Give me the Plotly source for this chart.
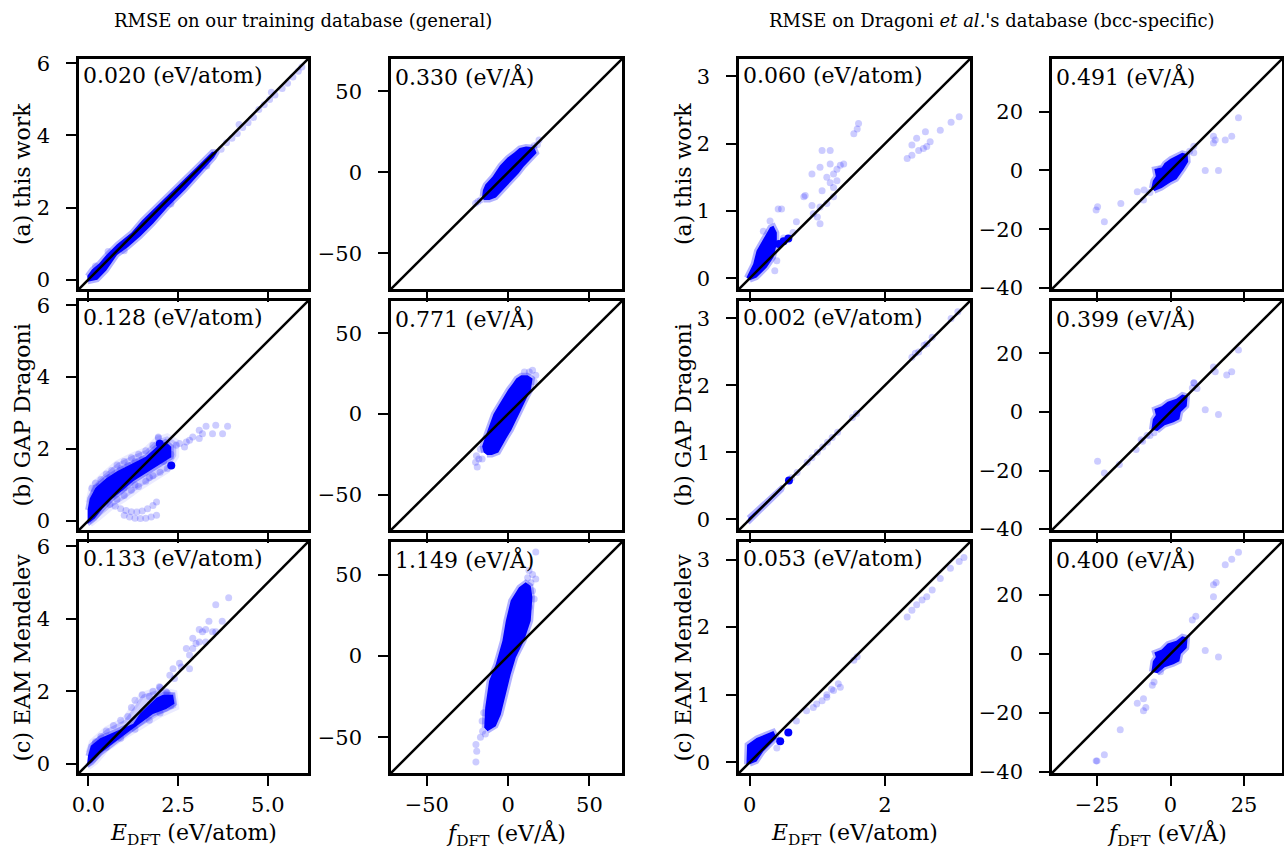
import plotly.graph_objects as go

# ---------------- data ----------------
row_labels = ["(a) this work", "(b) GAP Dragoni", "(c) EAM Mendelev"]
col_titles = ["RMSE on our training database (general)",
              "RMSE on Dragoni <i>et al.</i>'s database (bcc-specific)"]
rmse_text = [["0.020 (eV/atom)", "0.330 (eV/Å)", "0.060 (eV/atom)", "0.491 (eV/Å)"],
             ["0.128 (eV/atom)", "0.771 (eV/Å)", "0.002 (eV/atom)", "0.399 (eV/Å)"],
             ["0.133 (eV/atom)", "1.149 (eV/Å)", "0.053 (eV/atom)", "0.400 (eV/Å)"]]
x_titles = ["<i>E</i><sub>DFT</sub> (eV/atom)", "<i>f</i><sub>DFT</sub> (eV/Å)",
            "<i>E</i><sub>DFT</sub> (eV/atom)", "<i>f</i><sub>DFT</sub> (eV/Å)"]

col_limits = [[-0.26, 6.12], [-72, 70], [-0.16, 3.26], [-40.3, 37.9]]
col_xticks = [[0, 2.5, 5], [-50, 0, 50], [0, 2, 4], [-25, 0, 25]]
col_xtickformat = [".1f", "", "", ""]
col_yticks = [[0, 2, 4, 6], [-50, 0, 50], [0, 1, 2, 3], [-40, -20, 0, 20]]

# --- (a) this work, energies, training DB
a_et_blob_x = [-0.02, 0.25, 0.5, 0.8, 1.1, 1.45, 1.8, 2.2, 2.7, 3.1, 3.5, 3.6, 3.45, 3.0, 2.5, 2.0, 1.5, 1.2, 0.8, 0.5, 0.3, 0.1, -0.03]
a_et_blob_y = [-0.06, 0.0, 0.25, 0.68, 0.9, 1.2, 1.55, 2.0, 2.5, 2.95, 3.38, 3.55, 3.55, 3.1, 2.62, 2.15, 1.65, 1.3, 0.98, 0.68, 0.45, 0.28, 0.1]
a_et_halo_x = []
a_et_halo_y = []
a_et_pts_x = [3.7, 3.85, 4.0, 4.15, 4.3, 4.45, 4.6, 4.75, 4.9, 5.05, 5.2, 5.4, 5.55, 5.7, 5.85, 5.95, 0.55, 1.0, 1.55, 2.3, 3.3, 4.2, 5.1, 0.2]
a_et_pts_y = [3.62, 3.8, 3.92, 4.05, 4.22, 4.35, 4.5, 4.72, 4.85, 5.0, 5.12, 5.3, 5.45, 5.62, 5.78, 5.9, 0.78, 0.8, 1.45, 2.1, 3.15, 4.3, 5.2, 0.38]
a_et_dot_x = []
a_et_dot_y = []

# --- (a) this work, forces, training DB
a_ft_blob_x = [-16, -15.5, -14, -9.5, -5, -0.5, 4, 7, 11, 16, 17.5, 13.5, 9.5, 6.5, 3, -0.5, -4.5, -7.5, -11.5, -15]
a_ft_blob_y = [-15, -11, -7.5, -2.5, 4.2, 9, 12.5, 15, 16, 15.5, 12, 8, 3.5, -0.5, -4.5, -8.5, -12.5, -15.5, -17, -17]
a_ft_halo_x = []
a_ft_halo_y = []
a_ft_pts_x = [-20, -18.5, 19, 18, -17, 16]
a_ft_pts_y = [-19, -18, 20, 17, -17, 16.5]
a_ft_dot_x = []
a_ft_dot_y = []

# --- (a) this work, energies, bcc DB
a_eb_blob_x = [-0.05, 0.05, 0.1, 0.22, 0.3, 0.35, 0.4, 0.4, 0.35, 0.25, 0.1, 0.0]
a_eb_blob_y = [0.01, 0.21, 0.41, 0.61, 0.76, 0.78, 0.68, 0.51, 0.31, 0.16, 0.01, -0.03]
a_eb_halo_x = []
a_eb_halo_y = []
a_eb_pts_x = [0.42, 0.47, 0.8, 0.82, 0.92, 0.94, 1.04, 1.0, 1.04, 1.14, 1.24, 1.07, 1.14, 0.92, 1.04, 1.07, 1.19, 1.19, 1.24, 1.29, 1.34, 1.39, 1.29, 1.24, 1.19, 1.54, 1.61, 1.59, 0.64, 0.69, 0.4, 0.37,
              2.33, 2.4, 2.5, 2.57, 2.62, 2.67, 2.4, 2.47, 2.6, 2.82, 2.98, 3.1, 0.3, 0.2, 0.5]
a_eb_pts_y = [1.03, 1.03, 1.21, 1.23, 1.08, 0.96, 0.81, 0.91, 1.06, 1.11, 1.21, 1.3, 1.5, 1.55, 1.65, 1.9, 1.9, 1.7, 1.55, 1.62, 1.68, 1.7, 1.45, 1.35, 1.42, 2.15, 2.3, 2.22, 0.68, 0.84, 0.26, 0.11,
              1.78, 1.83, 1.9, 1.93, 1.96, 2.03, 1.98, 2.08, 2.18, 2.2, 2.32, 2.4, 0.85, 0.7, 0.6]
a_eb_dot_x = [0.57, 0.43, 0.5]
a_eb_dot_y = [0.59, 0.51, 0.55]

# --- (a) this work, forces, bcc DB
a_fb_blob_x = [-6.5, -6, -5, -5.5, -3, -2, 0, 2, 4, 5.8, 6, 4.5, 3, 2, 0, -3, -5.5]
a_fb_blob_y = [-6, -3.5, -2, 0.5, 1, 2.5, 4, 5, 6, 5.5, 3, 0.5, -1.5, -3, -4, -6, -7]
a_fb_halo_x = []
a_fb_halo_y = []
a_fb_pts_x = [-24.8, -25.3, -22.5, -16.9, -11.3, -9, -9.2, 7.9, 7.9, 11.8, 16.3, 14.6, 14.6, 15.2, 18.6, 20.8, 23.1, -3.4, -7, 6.5]
a_fb_pts_y = [-12.3, -13.4, -17.4, -11.2, -7.2, -6.6, -10, 8.2, 6, 0, 0, 11.6, 9.3, 10.4, 10.4, 11.6, 17.9, 0.5, -7.5, 6.5]
a_fb_dot_x = []
a_fb_dot_y = []

# --- (b) GAP Dragoni, energies, training DB
b_et_blob_x = [-0.02, 0.04, 0.2, 0.5, 0.8, 1.0, 1.3, 1.6, 1.9, 2.15, 2.31, 2.31, 2.0, 1.6, 1.25, 0.95, 0.65, 0.4, 0.18, -0.02]
b_et_blob_y = [0.3, 0.62, 0.92, 1.18, 1.38, 1.48, 1.6, 1.78, 2.05, 2.2, 2.06, 1.77, 1.57, 1.32, 1.1, 0.84, 0.6, 0.34, 0.06, -0.09]
b_et_halo_x = [0.0, 0.1, 0.4, 0.8, 1.2, 1.6, 1.9, 2.2, 2.45, 2.45, 2.2, 1.8, 1.4, 1.0, 0.6, 0.3, 0.05]
b_et_halo_y = [0.5, 0.95, 1.25, 1.6, 1.8, 1.97, 2.25, 2.35, 2.2, 1.8, 1.4, 1.15, 0.9, 0.6, 0.35, 0.1, -0.1]
b_et_pts_x = [0.1, 0.2, 0.35, 0.5, 0.65, 0.8, 1.0, 1.2, 1.4, 1.6, 1.8, 1.95, 0.3, 0.6, 0.9, 1.1, 1.3, 1.5,
              0.6, 0.8, 1.0, 1.2, 1.4, 1.6, 1.8, 2.0, 2.2, 1.0, 1.3, 1.7, 2.1, 2.3,
              0.75, 0.9, 1.05, 1.2, 1.35, 1.5, 1.65, 1.8, 1.9,
              1.0, 1.15, 1.3, 1.45, 1.6, 1.75, 1.9,
              2.54, 2.73, 2.91, 3.09, 3.28, 3.46, 3.55, 3.74, 3.88, 3.09, 2.82, 2.45, 2.68, 3.18, 1.95]
b_et_pts_y = [0.9, 1.05, 1.15, 1.3, 1.4, 1.55, 1.65, 1.75, 1.85, 1.95, 2.1, 2.3, 0.95, 1.2, 1.45, 1.55, 1.65, 1.7,
              0.45, 0.6, 0.7, 0.85, 0.95, 1.1, 1.25, 1.35, 1.45, 0.9, 1.0, 1.2, 1.65, 1.85,
              0.4, 0.33, 0.28, 0.25, 0.24, 0.27, 0.33, 0.42, 0.52,
              0.15, 0.1, 0.07, 0.06, 0.07, 0.1, 0.15,
              2.15, 2.19, 2.33, 2.52, 2.63, 2.42, 2.66, 2.42, 2.63, 2.29, 2.24, 2.1, 2.05, 2.42, 2.33]
b_et_dot_x = [2.31, 1.99]
b_et_dot_y = [1.54, 2.14]

# --- (b) GAP Dragoni, forces, training DB
b_ft_blob_x = [-15, -16, -14, -12.5, -10.5, -9, -6, -3, 0, 3, 5, 8, 12, 15, 14, 12, 10, 7, 4.5, 2, -1, -4, -6, -10, -13]
b_ft_blob_y = [-24, -20, -14, -10, -5, 0, 5, 10.5, 15, 19, 22, 24, 24, 22, 15, 11, 6.5, 0, -5, -10, -15, -20, -24, -25.5, -25.5]
b_ft_halo_x = []
b_ft_halo_y = []
b_ft_pts_x = [-19.5, -20, -19, -18, 15, 13, 17, 16, -17, 10, -16]
b_ft_pts_y = [-26, -30, -33, -28, 27, 26, 24, 20, -22, 26, -28]
b_ft_dot_x = []
b_ft_dot_y = []

# --- (b) GAP Dragoni, energies, bcc DB
b_eb_blob_x = [-0.03, 0.2, 0.47, 0.49, 0.22, -0.02]
b_eb_blob_y = [-0.05, 0.17, 0.44, 0.49, 0.25, 0.02]
b_eb_halo_x = []
b_eb_halo_y = []
b_eb_pts_x = [0.62, 0.7, 0.85, 0.92, 1.0, 1.08, 1.15, 1.22, 1.3, 1.52, 1.58, 2.4, 2.45, 2.5, 2.58, 2.62, 2.7, 2.98, 3.08]
b_eb_pts_y = [0.62, 0.7, 0.85, 0.92, 1.0, 1.08, 1.15, 1.22, 1.3, 1.52, 1.58, 2.42, 2.48, 2.5, 2.6, 2.62, 2.72, 3.0, 3.1]
b_eb_dot_x = [0.58]
b_eb_dot_y = [0.58]

# --- (b) GAP Dragoni, forces, bcc DB
b_fb_blob_x = [-6.5, -6, -5, -5.5, -3, -1, 2, 4, 5.8, 5.5, 3.5, 3, 1, -2, -4.5]
b_fb_blob_y = [-6, -2.5, -1, 1, 2, 3.5, 4.5, 6, 5.5, 2, 0, -2.5, -3.5, -4.5, -6.5]
b_fb_halo_x = []
b_fb_halo_y = []
b_fb_pts_x = [-24.8, -22.5, -17.4, -11.7, -9.5, -5.6, 7.4, 7.9, 11.8, 16.3, 14.6, 15.2, 19.1, 20.8, 23.1, -8, -10, 8, -7, 9]
b_fb_pts_y = [-16.8, -20.8, -17.9, -12.8, -10, -7.1, 8.2, 9.9, 0.8, -0.9, 15.4, 13.7, 12.6, 13.7, 21.2, -8, -9.5, 10, -8, 8]
b_fb_dot_x = []
b_fb_dot_y = []

# --- (c) EAM Mendelev, energies, training DB
c_et_blob_x = [-0.01, 0.07, 0.33, 0.8, 1.25, 1.44, 1.62, 1.9, 2.08, 2.36, 2.4, 2.17, 1.8, 1.44, 1.07, 0.7, 0.33, 0.1, -0.04]
c_et_blob_y = [0.21, 0.49, 0.7, 0.9, 1.1, 1.38, 1.55, 1.82, 1.9, 1.9, 1.65, 1.51, 1.37, 1.12, 0.84, 0.56, 0.28, 0.03, -0.06]
c_et_halo_x = [0.0, 0.1, 0.5, 1.0, 1.3, 1.5, 2.0, 2.4, 2.45, 2.0, 1.5, 1.0, 0.5, 0.2, 0.0]
c_et_halo_y = [0.3, 0.6, 0.95, 1.2, 1.6, 1.9, 2.05, 1.95, 1.55, 1.35, 1.05, 0.75, 0.4, 0.05, -0.1]
c_et_pts_x = [0.2, 0.5, 0.9, 1.2, 1.3, 1.5, 1.7, 2.0, 2.2, 1.8, 1.1, 0.7, 0.35,
              3.91, 3.55, 3.36, 3.73, 3.09, 3.27, 3.46, 2.91, 3.09, 2.73, 2.82, 2.54, 2.59, 2.27, 2.4, 1.98, 2.17, 2.82, 2.36, 3.18, 3.0, 3.55, 3.27, 2.91,
              0.5, 0.9, 1.3, 1.7, 2.0, 2.3]
c_et_pts_y = [0.6, 0.9, 1.2, 1.55, 1.75, 1.9, 1.85, 2.1, 1.95, 2.0, 1.3, 1.05, 0.75,
              4.58, 4.39, 3.93, 3.93, 3.7, 3.7, 3.64, 3.46, 3.36, 3.18, 3.0, 2.77, 2.67, 2.44, 2.35, 2.12, 1.98, 2.62, 2.62, 3.64, 3.32, 3.64, 3.36, 3.18,
              0.45, 0.7, 0.95, 1.2, 1.4, 1.6]
c_et_dot_x = []
c_et_dot_y = []

# --- (c) EAM Mendelev, forces, training DB
c_ft_blob_x = [-14.7, -14.1, -11.7, -7.6, -3.5, -1.4, 1.6, 6.7, 10.8, 13.9, 14.9, 13.9, 9.8, 4.7, 1.6, -1.4, -4.5, -7.6, -12.7]
c_ft_blob_y = [-44.2, -31.9, -15.4, -5.1, 9.3, 21.6, 34, 42.2, 45.2, 43, 36, 21.6, 9.3, -1, -11.3, -23.7, -36, -43.2, -46.3]
c_ft_halo_x = []
c_ft_halo_y = []
c_ft_pts_x = [-19.8, -19.3, -19.8, -15.7, 17, 17, 12.8, -16, -15, 15, 16, 13, -14, -17, 12, 15, 14]
c_ft_pts_y = [-54.5, -58.6, -65.2, -46.3, 63.8, 47.3, 52.5, -40, -35, 40, 35, 30, -48, -50, 48, 50, 45]
c_ft_dot_x = []
c_ft_dot_y = []

# --- (c) EAM Mendelev, energies, bcc DB
c_eb_blob_x = [-0.05, -0.05, -0.04, 0.1, 0.25, 0.35, 0.4, 0.3, 0.2, 0.1, 0.0]
c_eb_blob_y = [-0.03, 0.21, 0.26, 0.36, 0.41, 0.46, 0.36, 0.26, 0.16, 0.01, -0.03]
c_eb_halo_x = []
c_eb_halo_y = []
c_eb_pts_x = [0.4, 0.69, 0.84, 0.94, 1.07, 1.14, 1.24, 1.31, 1.34, 1.21, 1.14, 0.99, 1.54, 1.59, 2.33, 2.4, 2.47, 2.55, 2.62, 2.7, 2.82, 2.97, 3.1, 3.17]
c_eb_pts_y = [0.21, 0.61, 0.76, 0.81, 0.91, 0.96, 1.06, 1.16, 1.11, 1.08, 1.0, 0.86, 1.51, 1.56, 2.15, 2.25, 2.33, 2.4, 2.45, 2.55, 2.72, 2.87, 2.97, 3.03]
c_eb_dot_x = [0.45, 0.57]
c_eb_dot_y = [0.31, 0.44]

# --- (c) EAM Mendelev, forces, bcc DB
c_fb_blob_x = [-6.5, -6, -5, -5.5, -3, -1, 2, 4, 5.8, 5.5, 3.5, 3, 1, -2, -4.5]
c_fb_blob_y = [-6, -2.5, -1, 0.5, 1.5, 3.5, 4.5, 6, 5.5, 2, 0, -2.5, -3.5, -4.5, -6.5]
c_fb_halo_x = []
c_fb_halo_y = []
c_fb_pts_x = [-25, -25.3, -22.5, -17.1, -11.3, -9.2, -9.2, -8.4, -5.6, -6.2, -3.4, 7.4, 8.6, 11.8, 16.3, 14.6, 14.6, 15.5, 18.6, 20.8, 23.1]
c_fb_pts_y = [-36.2, -36.2, -34.1, -25.7, -16.7, -15.2, -19.2, -18.1, -9.5, -10.6, -6, 11.5, 12.8, 1.2, -1, 19.4, 23.4, 24.2, 30.2, 32.1, 34.4]
c_fb_dot_x = []
c_fb_dot_y = []

panels = [
    [(a_et_blob_x, a_et_blob_y, a_et_halo_x, a_et_halo_y, a_et_pts_x, a_et_pts_y, a_et_dot_x, a_et_dot_y),
     (a_ft_blob_x, a_ft_blob_y, a_ft_halo_x, a_ft_halo_y, a_ft_pts_x, a_ft_pts_y, a_ft_dot_x, a_ft_dot_y),
     (a_eb_blob_x, a_eb_blob_y, a_eb_halo_x, a_eb_halo_y, a_eb_pts_x, a_eb_pts_y, a_eb_dot_x, a_eb_dot_y),
     (a_fb_blob_x, a_fb_blob_y, a_fb_halo_x, a_fb_halo_y, a_fb_pts_x, a_fb_pts_y, a_fb_dot_x, a_fb_dot_y)],
    [(b_et_blob_x, b_et_blob_y, b_et_halo_x, b_et_halo_y, b_et_pts_x, b_et_pts_y, b_et_dot_x, b_et_dot_y),
     (b_ft_blob_x, b_ft_blob_y, b_ft_halo_x, b_ft_halo_y, b_ft_pts_x, b_ft_pts_y, b_ft_dot_x, b_ft_dot_y),
     (b_eb_blob_x, b_eb_blob_y, b_eb_halo_x, b_eb_halo_y, b_eb_pts_x, b_eb_pts_y, b_eb_dot_x, b_eb_dot_y),
     (b_fb_blob_x, b_fb_blob_y, b_fb_halo_x, b_fb_halo_y, b_fb_pts_x, b_fb_pts_y, b_fb_dot_x, b_fb_dot_y)],
    [(c_et_blob_x, c_et_blob_y, c_et_halo_x, c_et_halo_y, c_et_pts_x, c_et_pts_y, c_et_dot_x, c_et_dot_y),
     (c_ft_blob_x, c_ft_blob_y, c_ft_halo_x, c_ft_halo_y, c_ft_pts_x, c_ft_pts_y, c_ft_dot_x, c_ft_dot_y),
     (c_eb_blob_x, c_eb_blob_y, c_eb_halo_x, c_eb_halo_y, c_eb_pts_x, c_eb_pts_y, c_eb_dot_x, c_eb_dot_y),
     (c_fb_blob_x, c_fb_blob_y, c_fb_halo_x, c_fb_halo_y, c_fb_pts_x, c_fb_pts_y, c_fb_dot_x, c_fb_dot_y)],
]

# ---------------- layout geometry (pixels) ----------------
W, H = 1284, 850
COLS_PX = [(79, 308), (391, 622), (739, 970), (1052, 1282)]
ROWS_PX = [(59, 289), (301, 530), (542, 773)]
FONT = "DejaVu Serif"
FS_TEXT = 22
FS_TICK = 21
FS_XTITLE = 22
FS_TITLE = 18
BLUE = "rgb(0,0,255)"
LIGHT = "rgba(0,0,255,0.2)"
HALO = "rgba(0,0,255,0.18)"

fig = go.Figure()
layout = dict(width=W, height=H, autosize=False, margin=dict(l=0, r=0, t=0, b=0, pad=0),
              paper_bgcolor="white", plot_bgcolor="white", showlegend=False,
              font=dict(family=FONT, size=FS_TEXT, color="black"))
annotations = []

for r in range(3):
    for c in range(4):
        i = r * 4 + c + 1
        sfx = "" if i == 1 else str(i)
        xa, ya = "x" + sfx, "y" + sfx
        bx, by, hx, hy, px, py, dx, dy = panels[r][c]
        lo, hi = col_limits[c]
        if hx:
            fig.add_trace(go.Scatter(x=hx, y=hy, mode="lines", fill="toself", fillcolor=HALO,
                                     line=dict(color="rgba(0,0,255,0.08)", width=6),
                                     xaxis=xa, yaxis=ya, hoverinfo="skip"))
        fig.add_trace(go.Scatter(x=bx, y=by, mode="lines", fill="toself", fillcolor=BLUE,
                                 line=dict(color="rgba(0,0,255,0.3)", width=5),
                                 xaxis=xa, yaxis=ya, hoverinfo="skip"))
        fig.add_trace(go.Scatter(x=px, y=py, mode="markers",
                                 marker=dict(size=7, color=LIGHT, line=dict(width=0)),
                                 xaxis=xa, yaxis=ya))
        if dx:
            fig.add_trace(go.Scatter(x=dx, y=dy, mode="markers",
                                     marker=dict(size=8, color=BLUE, line=dict(width=0)),
                                     xaxis=xa, yaxis=ya))
        fig.add_trace(go.Scatter(x=[lo, hi], y=[lo, hi], mode="lines",
                                 line=dict(color="black", width=2.5),
                                 xaxis=xa, yaxis=ya, hoverinfo="skip"))
        x0, x1 = COLS_PX[c]
        y0, y1 = ROWS_PX[r]
        common = dict(range=[lo, hi], showline=True, linecolor="black", linewidth=2.5,
                      mirror=True, ticks="outside", ticklen=10, tickwidth=1.5,
                      tickcolor="black", showgrid=False, zeroline=False, automargin=False,
                      tickfont=dict(family=FONT, size=FS_TICK, color="black"))
        layout["xaxis" + sfx] = dict(common, domain=[x0 / W, x1 / W], anchor=ya,
                                     tickvals=col_xticks[c], tickformat=col_xtickformat[c],
                                     showticklabels=(r == 2), ticklabelstandoff=1)
        layout["yaxis" + sfx] = dict(common, domain=[1 - y1 / H, 1 - y0 / H], anchor=xa,
                                     tickvals=col_yticks[c], ticklabelstandoff=12)
        annotations.append(dict(text=rmse_text[r][c], xref=xa + " domain", yref=ya + " domain",
                                x=0.008, y=0.99, xanchor="left", yanchor="top", showarrow=False,
                                font=dict(family=FONT, size=FS_TEXT)))

# row labels (y-axis titles) for columns 1 and 3
for r in range(3):
    yc = 1 - (ROWS_PX[r][0] + ROWS_PX[r][1]) / 2 / H
    for xc in (22, 683):
        annotations.append(dict(text=row_labels[r], xref="paper", yref="paper", x=xc / W, y=yc,
                                xanchor="center", yanchor="middle", textangle=-90, showarrow=False,
                                font=dict(family=FONT, size=FS_TEXT)))
# x-axis titles (bottom row)
for c in range(4):
    xc = (COLS_PX[c][0] + COLS_PX[c][1]) / 2 / W
    annotations.append(dict(text=x_titles[c], xref="paper", yref="paper", x=xc, y=1 - 834 / H,
                            xanchor="center", yanchor="middle", showarrow=False,
                            font=dict(family=FONT, size=FS_XTITLE)))
# column titles
for xc, t in zip((303, 992), col_titles):
    annotations.append(dict(text=t, xref="paper", yref="paper", x=xc / W, y=1 - 20 / H,
                            xanchor="center", yanchor="middle", showarrow=False,
                            font=dict(family=FONT, size=FS_TITLE)))

layout["annotations"] = annotations
fig.update_layout(**layout)
fig.write_html("out.html", post_script="document.body.style.margin='0';")
